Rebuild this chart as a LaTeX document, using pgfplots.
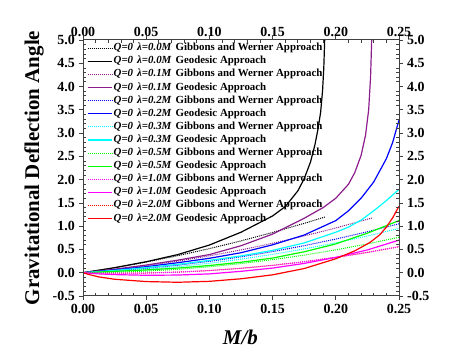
\documentclass[border=0pt]{standalone}
\usepackage{fontspec}
\setmainfont{Liberation Serif}
\usepackage{pgfplots}
\pgfplotsset{compat=1.18}
\definecolor{cpurple}{RGB}{140,30,140}
\definecolor{cblue}{RGB}{0,0,255}
\definecolor{ccyan}{RGB}{0,255,255}
\definecolor{cgreen}{RGB}{0,255,0}
\definecolor{cmagenta}{RGB}{255,0,255}
\definecolor{cred}{RGB}{255,0,0}
\newcommand{\lbl}[2]{\textit{Q=0\hspace{4bp}λ=#1M}\hspace{4bp}#2}
\begin{document}
\begin{tikzpicture}
\useasboundingbox (0,0) rectangle (464bp,355bp);
\pgfplotsset{
  common/.style={
    at={(83bp,59bp)}, anchor=south west, scale only axis,
    width=316bp, height=256bp,
    xmin=0, xmax=0.25, ymin=-0.5, ymax=5,
    xtick={0,0.05,0.1,0.15,0.2,0.25},
    ytick={-0.5,0,0.5,1,1.5,2,2.5,3,3.5,4,4.5,5},
    /pgf/number format/assume math mode=true,
    ticklabel style={font=\bfseries\fontsize{14}{14}\selectfont, inner sep=2bp},
    xticklabel style={/pgf/number format/fixed, /pgf/number format/fixed zerofill, /pgf/number format/precision=2},
    yticklabel style={/pgf/number format/fixed, /pgf/number format/fixed zerofill, /pgf/number format/precision=1},
    axis line style={line width=1bp, draw=black!75},
    tick style={line width=0.8bp, black!75},
  }
}
\begin{axis}[common,
  tick align=outside, major tick length=4bp, minor tick num=0,
  xticklabel style={yshift=-2bp},
  yticklabel style={xshift=-2bp},
  xlabel={\textbf{\textit{M/b}}},
  xlabel style={font=\fontsize{21}{21}\selectfont, at={(axis description cs:0.498,-0.16)}, anchor=center},
  ylabel={\textbf{Gravitational Deflection Angle}},
  ylabel style={font=\fontsize{21}{21}\selectfont, at={(axis description cs:-0.155,0.5)}, anchor=center},
  legend cell align=left,
  legend style={at={(0.012,0.99)}, anchor=north west, draw=none, fill=none, inner sep=0pt,
    font=\bfseries\fontsize{10.9}{12}\selectfont,
    nodes={inner sep=0.5bp, text height=7.5bp, text depth=2.5bp},
    row sep=2.1bp, column sep=1bp},
  legend image code/.code={\draw[#1] (0bp,0bp) -- (24bp,0bp);},
]
% hidden red dotted (coincides with magenta dotted)
\addplot[cred, densely dotted, line width=1bp, forget plot] coordinates {
(0,0) (0.025,-0.0104) (0.05,-0.006) (0.075,0.013) (0.1,0.0468) (0.125,0.0953) (0.15,0.1586) (0.175,0.2366) (0.2,0.3292) (0.225,0.4367) (0.25,0.5588)};
% lambda 0.0
\addplot[black, densely dotted, line width=1bp] coordinates {
(0,0) (0.025,0.1074) (0.05,0.2295) (0.075,0.3663) (0.1,0.5178) (0.125,0.6841) (0.15,0.8651) (0.175,1.0608) (0.192,1.2023)};
\addlegendentry{\lbl{0.0}{Gibbons and Werner Approach}}
\addplot[black, line width=1.2bp] coordinates {
(0,0) (0.025,0.108) (0.05,0.236) (0.075,0.39) (0.1,0.595) (0.125,0.87) (0.15,1.22) (0.16,1.42) (0.17,1.76) (0.175,2.02) (0.18,2.38) (0.1835,2.75) (0.186,3.1) (0.188,3.45) (0.1895,3.9) (0.1905,4.4) (0.1912,5.0)};
\addlegendentry{\lbl{0.0}{Geodesic Approach}}
% lambda 0.1
\addplot[cpurple, densely dotted, line width=1bp] coordinates {
(0,0) (0.025,0.0686) (0.05,0.152) (0.075,0.250) (0.1,0.3628) (0.125,0.4903) (0.15,0.6326) (0.175,0.7896) (0.2,0.9612) (0.229,1.1788)};
\addlegendentry{\lbl{0.1}{Gibbons and Werner Approach}}
\addplot[cpurple, line width=1.2bp] coordinates {
(0,0) (0.025,0.075) (0.05,0.165) (0.075,0.27) (0.1,0.39) (0.125,0.58) (0.15,0.83) (0.175,1.17) (0.19,1.4) (0.2,1.6) (0.21,1.9) (0.215,2.15) (0.22,2.52) (0.2235,2.95) (0.226,3.5) (0.2275,4.2) (0.2284,5.0)};
\addlegendentry{\lbl{0.1}{Geodesic Approach}}
% lambda 0.2
\addplot[cblue, densely dotted, line width=1bp] coordinates {
(0,0) (0.025,0.0389) (0.05,0.0925) (0.075,0.1608) (0.1,0.2438) (0.125,0.3416) (0.15,0.4541) (0.175,0.5813) (0.2,0.7232) (0.225,0.8799) (0.25,1.0513)};
\addlegendentry{\lbl{0.2}{Gibbons and Werner Approach}}
\addplot[cblue, line width=1.2bp] coordinates {
(0,0) (0.025,0.06) (0.05,0.13) (0.075,0.215) (0.1,0.31) (0.125,0.43) (0.15,0.6) (0.175,0.81) (0.2,1.12) (0.21,1.33) (0.22,1.6) (0.23,1.95) (0.24,2.45) (0.245,2.8) (0.25,3.28)};
\addlegendentry{\lbl{0.2}{Geodesic Approach}}
% lambda 0.3
\addplot[ccyan, densely dotted, line width=1bp] coordinates {
(0,0) (0.025,0.0289) (0.05,0.0725) (0.075,0.1308) (0.1,0.2038) (0.125,0.2916) (0.15,0.3941) (0.175,0.5113) (0.2,0.6432) (0.225,0.7899) (0.25,0.9513)};
\addlegendentry{\lbl{0.3}{Gibbons and Werner Approach}}
\addplot[ccyan, line width=1.2bp] coordinates {
(0,0) (0.025,0.05) (0.05,0.11) (0.075,0.18) (0.1,0.265) (0.125,0.36) (0.15,0.48) (0.175,0.64) (0.2,0.87) (0.21,0.98) (0.22,1.13) (0.23,1.33) (0.24,1.55) (0.25,1.79)};
\addlegendentry{\lbl{0.3}{Geodesic Approach}}
% lambda 0.5
\addplot[cgreen, densely dotted, line width=1bp] coordinates {
(0,0) (0.025,0.0099) (0.05,0.0345) (0.075,0.0738) (0.1,0.1278) (0.125,0.1966) (0.15,0.2801) (0.175,0.3783) (0.2,0.4912) (0.225,0.6189) (0.25,0.7613)};
\addlegendentry{\lbl{0.5}{Gibbons and Werner Approach}}
\addplot[cgreen, line width=1.2bp] coordinates {
(0,0) (0.025,0.03) (0.05,0.06) (0.075,0.1) (0.1,0.155) (0.125,0.225) (0.15,0.315) (0.175,0.45) (0.2,0.62) (0.225,0.85) (0.25,1.12)};
\addlegendentry{\lbl{0.5}{Geodesic Approach}}
% lambda 1.0
\addplot[cmagenta, densely dotted, line width=1bp] coordinates {
(0,0) (0.025,-0.0104) (0.05,-0.006) (0.075,0.013) (0.1,0.0468) (0.125,0.0953) (0.15,0.1586) (0.175,0.2366) (0.2,0.3292) (0.225,0.4367) (0.25,0.5588)};
\addlegendentry{\lbl{1.0}{Gibbons and Werner Approach}}
\addplot[cmagenta, line width=1.2bp] coordinates {
(0,0) (0.0125,-0.025) (0.025,-0.04) (0.05,-0.055) (0.075,-0.05) (0.1,-0.025) (0.125,0.03) (0.15,0.1) (0.175,0.2) (0.2,0.33) (0.225,0.49) (0.25,0.7)};
\addlegendentry{\lbl{1.0}{Geodesic Approach}}
% lambda 2.0
\addlegendimage{cred, densely dotted, line width=1bp}
\addlegendentry{\lbl{2.0}{Gibbons and Werner Approach}}
\addplot[cred, line width=1.2bp] coordinates {
(0,0) (0.005,-0.04) (0.0125,-0.09) (0.025,-0.14) (0.05,-0.19) (0.075,-0.205) (0.1,-0.185) (0.125,-0.13) (0.15,-0.045) (0.175,0.09) (0.2,0.3) (0.215,0.47) (0.227,0.65) (0.235,0.82) (0.24,0.98) (0.245,1.18) (0.25,1.43)};
\addlegendentry{\lbl{2.0}{Geodesic Approach}}
\end{axis}
\begin{axis}[common,
  tick align=inside, major tick length=0pt, minor tick num=4, minor tick length=3bp,
  xticklabel pos=right, yticklabel pos=right,
  xticklabel style={yshift=1bp},
  yticklabel style={xshift=6bp},
]
\end{axis}
\end{tikzpicture}
\end{document}
